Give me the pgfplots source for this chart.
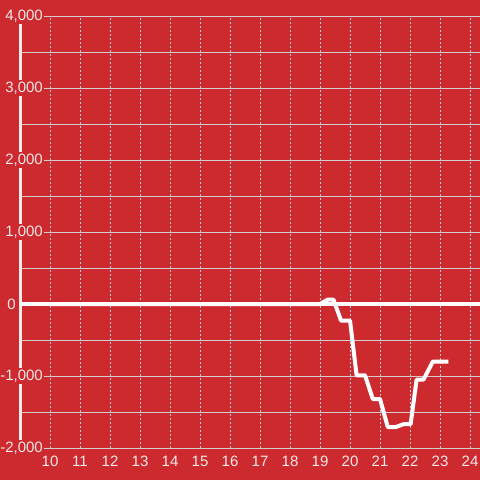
\documentclass[border=0pt]{standalone}
\usepackage{fontspec}
\setmainfont{Liberation Sans}
\usepackage{pgfplots}
\pgfplotsset{compat=1.18}
\definecolor{bgred}{RGB}{204,42,47}
\definecolor{gridc}{RGB}{212,204,204}
\definecolor{txt}{RGB}{244,232,232}
\definecolor{axline}{RGB}{240,236,236}

\begin{document}
\begin{tikzpicture}[x=1pt,y=1pt]
\path[use as bounding box] (-21,-32) rectangle (459,448);
\fill[bgred] (-21,-32) rectangle (459,448);
\begin{axis}[
  at={(0,0)}, anchor=south west,
  scale only axis, width=459pt, height=432pt,
  clip=false,
  axis x line*=bottom, axis y line*=left,
  x axis line style={draw=none},
  y axis line style={axline, line width=3pt, -},
  xmin=9.033, xmax=24.333, ymin=-2000, ymax=4000,
  xtick={10,...,24},
  ytick={-2000,-1000,1000,2000,3000,4000},
  minor ytick={-1500,-500,500,1500,2500,3500},
  extra y ticks={0},
  extra y tick style={yticklabel style={xshift=-27pt}},
  xmajorgrids, ymajorgrids, yminorgrids,
  x grid style={gridc, line width=1pt, dash pattern=on 2pt off 2pt},
  y grid style={gridc, line width=1pt},
  major tick length=0pt, minor tick length=0pt,
  tick label style={font=\fontsize{15}{17}\selectfont, text=txt},
  yticklabel style={anchor=east, fill=bgred, inner sep=1.5pt, xshift=23.5pt},
  xticklabel style={anchor=north, inner sep=2pt, yshift=-6pt},
  /pgf/number format/assume math mode=true,
  /pgf/number format/1000 sep={,},
  scaled y ticks=false,
]
\draw[white, line width=4pt] (axis cs:9.033,0) -- (axis cs:24.333,0);
\addplot[white, line width=4pt, line join=round] coordinates {
  (10,0) (11,0) (12,0) (13,0) (14,0) (15,0) (16,0) (17,0) (18,0) (19,0)
  (19.25,60) (19.45,60) (19.7,-230) (20.0,-230) (20.22,-990) (20.5,-990)
  (20.76,-1320) (21.0,-1320) (21.26,-1710) (21.52,-1710) (21.78,-1670)
  (22.02,-1670) (22.22,-1050) (22.45,-1050) (22.76,-800) (23.0,-800) (23.28,-800)
};
\end{axis}
\end{tikzpicture}
\end{document}
